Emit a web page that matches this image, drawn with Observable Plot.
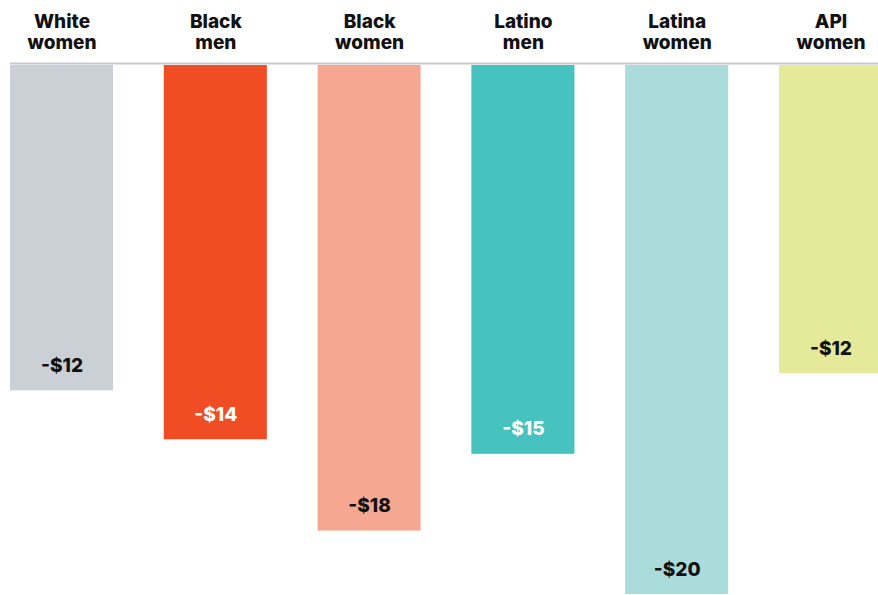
<!DOCTYPE html>
<html>
<head>
<meta charset="utf-8">
<script src="https://cdn.jsdelivr.net/npm/d3@7"></script>
<script src="https://cdn.jsdelivr.net/npm/@observablehq/plot@0.6"></script>
<style>
  html, body { margin: 0; padding: 0; background: #fff; overflow: hidden; }
  #chart svg { display: block; overflow: hidden; }
</style>
</head>
<body>
<div id="chart"></div>
<script>
const categories = ["White\nwomen", "Black\nmen", "Black\nwomen", "Latino\nmen", "Latina\nwomen", "API\nwomen"];
const values = [-12.3, -14.15, -17.6, -14.7, -20, -11.65];
const valueLabels = ["-$12", "-$14", "-$18", "-$15", "-$20", "-$12"];
const barColors = ["#cbd0d7", "#f04d25", "#f6a791", "#46c2bf", "#aadcdc", "#e4ea9a"];
const labelColors = ["#111111", "#ffffff", "#111111", "#ffffff", "#111111", "#111111"];

const data = categories.map((c, i) => ({
  cat: c, value: values[i], label: valueLabels[i], color: barColors[i], tcolor: labelColors[i]
}));

const chart = Plot.plot({
  width: 878,
  height: 595,
  marginTop: 65,
  marginBottom: 1,
  marginLeft: 10,
  marginRight: 0,
  style: { fontFamily: "Inter, sans-serif", background: "#fff" },
  x: { domain: categories, range: [10, 882], paddingInner: 0.33, paddingOuter: 0, round: false, axis: null },
  y: { domain: [0, -20], range: [65, 594], axis: null },
  marks: [
    Plot.barY(data, { x: "cat", y: "value", fill: "color" }),
    Plot.ruleY([0], { dy: -2, stroke: "#c6cad0", strokeWidth: 2 }),
    Plot.text(data, {
      x: "cat", y: "value", text: "label", fill: "tcolor",
      dy: -25, lineAnchor: "middle", fontSize: 19, fontWeight: 800
    }),
    Plot.text(data, {
      x: "cat", text: "cat", frameAnchor: "top", lineAnchor: "bottom",
      dy: -17, lineHeight: 1.1, fontSize: 19, fontWeight: 800, fill: "#111"
    })
  ]
});
document.getElementById("chart").appendChild(chart);
</script>
</body>
</html>
